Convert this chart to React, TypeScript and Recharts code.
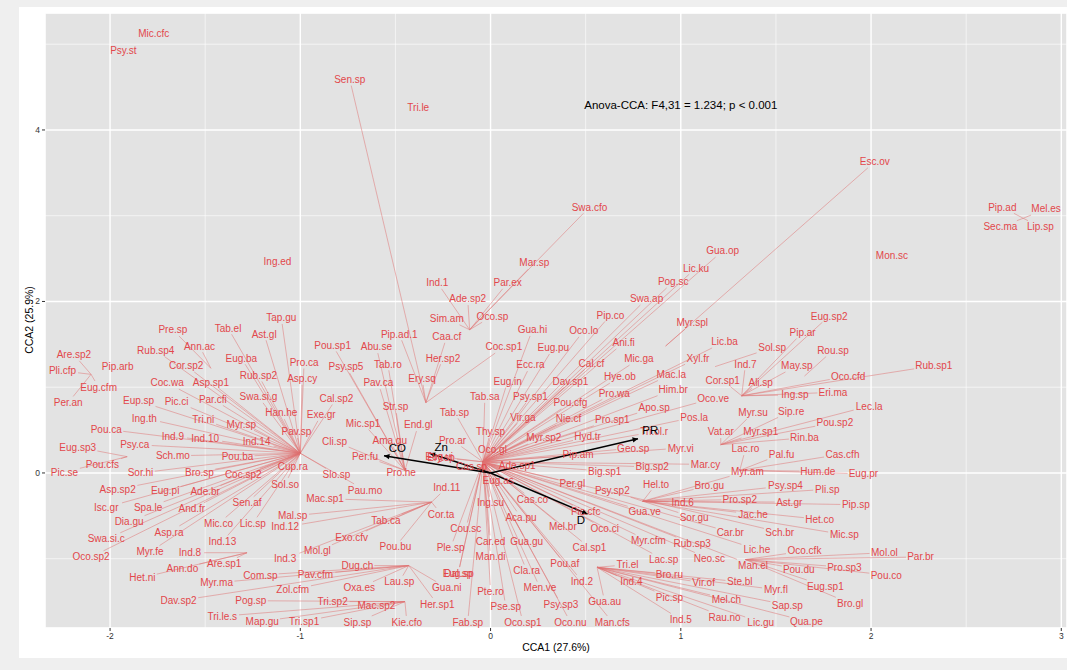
import React from "react";
import { ScatterChart, Scatter, XAxis, YAxis, ReferenceLine, CartesianGrid } from "recharts";

// points where the repelled label segments start (CCA1, CCA2)
const siteIds = ["A", "B", "C", "D1", "D2", "E", "F", "G", "H", "L1", "L2", "L3", "L4", "P", "S", "O", "M", "K", "K2", "R", "T", "U"];
const siteCCA1 = [-1.0, -0.34, -0.11, -0.43, -0.45, -0.31, 0.56, 0.8, 1.32, -2.1, -1.47, -1.91, -1.28, 2.8, 0.92, -0.04, -0.45, 1.21, 1.31, 1.34, 1.18, 1.65];
const siteCCA2 = [0.23, 0.82, 1.67, -1.08, -1.5, -0.34, -1.1, -0.33, 0.9, 1.15, 1.22, 0.19, -0.93, 2.97, 1.48, 0.13, 0.03, 0.33, 0.03, -1.01, 1.24, 1.13];

// species label: name, CCA1, CCA2, site ("" = no segment)
type Sp = [string, number, number, string];

const upperSpecies: Sp[] = [
  ["Mic.cfc", -1.77, 5.13, ""], ["Psy.st", -1.93, 4.93, ""], ["Sen.sp", -0.74, 4.59, "B"],
  ["Tri.le", -0.38, 4.26, ""], ["Swa.cfo", 0.52, 3.1, "C"], ["Esc.ov", 2.02, 3.63, "S"],
  ["Pip.ad", 2.69, 3.1, "P"], ["Mel.es", 2.92, 3.08, "P"], ["Sec.ma", 2.68, 2.87, "P"],
  ["Lip.sp", 2.89, 2.87, "P"], ["Mon.sc", 2.11, 2.54, ""], ["Ing.ed", -1.12, 2.47, ""],
  ["Mar.sp", 0.23, 2.45, "C"], ["Ind.1", -0.28, 2.22, "C"], ["Par.ex", 0.09, 2.22, "C"],
  ["Ade.sp2", -0.12, 2.03, "C"], ["Sim.am", -0.23, 1.8, "C"], ["Oco.sp", 0.01, 1.83, "C"],
  ["Gua.op", 1.22, 2.59, "O"], ["Lic.ku", 1.08, 2.39, "O"], ["Pog.sc", 0.96, 2.23, "O"],
  ["Swa.ap", 0.82, 2.03, "O"], ["Pip.co", 0.63, 1.84, "O"], ["Myr.spl", 1.06, 1.75, "S"],
  ["Oco.lo", 0.49, 1.66, "O"], ["Gua.hi", 0.22, 1.67, "O"], ["Ani.fi", 0.7, 1.52, "O"],
  ["Lic.ba", 1.23, 1.53, "O"], ["Eug.pu", 0.33, 1.46, "O"], ["Mic.ga", 0.78, 1.33, "O"],
  ["Xyl.fr", 1.09, 1.34, "O"], ["Cal.cf", 0.53, 1.28, "O"],
];

const rightSpecies: Sp[] = [
  ["Ind.7", 1.34, 1.27, "H"], ["Sol.sp", 1.48, 1.46, "T"], ["Hye.ob", 0.68, 1.12, "O"],
  ["Mac.la", 0.95, 1.15, "O"], ["Dav.sp1", 0.42, 1.07, "O"], ["Cor.sp1", 1.22, 1.08, "H"],
  ["Ali.sp", 1.42, 1.06, "H"], ["Pro.wa", 0.65, 0.93, "O"], ["Him.br", 0.96, 0.97, "O"],
  ["Oco.ve", 1.17, 0.87, "O"], ["Pou.cfg", 0.42, 0.82, "O"], ["Apo.sp", 0.86, 0.76, "O"],
  ["Myr.su", 1.38, 0.7, "K"], ["Sip.re", 1.58, 0.72, "K"], ["Nie.cf", 0.41, 0.63, "O"],
  ["Pro.sp1", 0.64, 0.62, "O"], ["Pos.la", 1.07, 0.65, "O"], ["Vat.ar", 1.21, 0.48, "K"],
  ["Myr.sp1", 1.42, 0.48, "K"], ["Tri.ol.r", 0.86, 0.48, "O"], ["Hyd.tr", 0.51, 0.42, "O"],
  ["Myr.sp2", 0.28, 0.41, "O"], ["Eug.sp2", 1.78, 1.83, "H"], ["Pip.ar", 1.64, 1.64, "H"],
  ["Rou.sp", 1.8, 1.43, "U"], ["May.sp", 1.61, 1.25, "H"], ["Rub.sp1", 2.33, 1.25, "H"],
  ["Oco.cfd", 1.88, 1.13, "H"], ["Eri.ma", 1.8, 0.94, "H"], ["Ing.sp", 1.6, 0.91, "H"],
  ["Lec.la", 1.99, 0.78, "K"], ["Pou.sp2", 1.81, 0.59, "K"], ["Rin.ba", 1.65, 0.41, "K"],
  ["Cas.cfh", 1.85, 0.22, "K2"], ["Pal.fu", 1.53, 0.22, "K2"], ["Lac.ro", 1.34, 0.28, "K2"],
  ["Hum.de", 1.72, 0.02, "K2"], ["Eug.pr", 1.96, -0.01, "K2"], ["Myr.am", 1.35, 0.02, "G"],
  ["Mar.cy", 1.13, 0.1, "O"], ["Myr.vi", 1.0, 0.29, "O"], ["Geo.sp", 0.75, 0.29, "O"],
  ["Big.sp2", 0.85, 0.07, "O"], ["Big.sp1", 0.6, 0.02, "O"], ["Pip.am", 0.46, 0.21, "O"],
  ["Per.gl", 0.43, -0.12, "O"], ["Psy.sp2", 0.64, -0.21, "G"], ["Hel.to", 0.87, -0.13, "G"],
  ["Bro.gu", 1.15, -0.15, "G"], ["Psy.sp4", 1.55, -0.15, "G"], ["Pli.sp", 1.77, -0.19, "G"],
  ["Ind.6", 1.01, -0.34, "G"], ["Pro.sp2", 1.31, -0.31, "G"], ["Ast.gr", 1.57, -0.34, "G"],
  ["Pip.sp", 1.92, -0.37, "G"], ["Pic.cfc", 0.5, -0.45, "O"], ["Gua.ve", 0.81, -0.45, "O"],
  ["Sor.gu", 1.07, -0.52, "G"], ["Jac.he", 1.38, -0.48, "G"], ["Het.co", 1.73, -0.54, "G"],
  ["Mel.br", 0.38, -0.63, "O"], ["Oco.ci", 0.6, -0.65, "O"], ["Car.br", 1.26, -0.69, "O"],
  ["Sch.br", 1.52, -0.69, "O"], ["Mic.sp", 1.86, -0.72, "G"], ["Myr.cfm", 0.83, -0.79, "O"],
  ["Rub.sp3", 1.06, -0.82, "O"], ["Lic.he", 1.4, -0.89, "O"], ["Cal.sp1", 0.52, -0.87, "O"],
  ["Oco.cfk", 1.65, -0.91, "R"], ["Mol.ol", 2.07, -0.93, "R"], ["Par.br", 2.26, -0.98, "R"],
  ["Lac.sp", 0.91, -1.01, "O"], ["Neo.sc", 1.15, -1.0, "O"], ["Man.el", 1.38, -1.08, "O"],
  ["Pou.du", 1.62, -1.12, "R"], ["Pro.sp3", 1.86, -1.1, "R"], ["Pou.co", 2.08, -1.19, "R"],
  ["Pou.af", 0.39, -1.06, "O"], ["Tri.el", 0.72, -1.07, "F"], ["Bro.ru", 0.94, -1.18, "F"],
  ["Ind.2", 0.48, -1.26, "O"], ["Ind.4", 0.74, -1.27, "F"], ["Vir.of", 1.12, -1.28, "F"],
  ["Ste.bl", 1.31, -1.27, "F"], ["Myr.fl", 1.5, -1.36, "F"], ["Eug.sp1", 1.76, -1.32, "R"],
  ["Pic.sp", 0.94, -1.45, "F"], ["Mel.ch", 1.24, -1.47, "F"], ["Gua.au", 0.6, -1.5, "F"],
  ["Psy.sp3", 0.37, -1.53, "O"], ["Sap.sp", 1.56, -1.54, "F"], ["Bro.gl", 1.89, -1.52, "R"],
  ["Ind.5", 1.0, -1.71, "F"], ["Rau.no", 1.23, -1.68, "F"], ["Lic.gu", 1.42, -1.74, "F"],
  ["Qua.pe", 1.66, -1.73, "F"], ["Oco.nu", 0.42, -1.74, "O"], ["Man.cfs", 0.64, -1.74, "O"],
  ["Men.ve", 0.26, -1.34, "O"],
];

const centreSpecies: Sp[] = [
  ["Pip.ad.1", -0.48, 1.62, "B"], ["Caa.cf", -0.23, 1.59, "B"], ["Pou.sp1", -0.83, 1.49, "M"],
  ["Abu.se", -0.6, 1.47, "M"], ["Her.sp2", -0.25, 1.34, "B"], ["Coc.sp1", 0.07, 1.47, "B"],
  ["Tab.ro", -0.54, 1.27, "M"], ["Psy.sp5", -0.76, 1.24, "M"], ["Pro.ca", -0.98, 1.29, "A"],
  ["Ecc.ra", 0.21, 1.26, "O"], ["Ery.sq", -0.36, 1.1, "B"], ["Asp.cy", -0.99, 1.1, "A"],
  ["Eug.in", 0.09, 1.07, "O"], ["Pav.ca", -0.59, 1.05, "M"], ["Tab.sa", -0.03, 0.89, "O"],
  ["Psy.sp1", 0.21, 0.89, "O"], ["Cal.sp2", -0.81, 0.87, "A"], ["Str.sp", -0.5, 0.77, "M"],
  ["Tab.sp", -0.19, 0.71, "O"], ["Vir.ga", 0.17, 0.65, "O"], ["Exe.gr", -0.89, 0.68, "A"],
  ["Han.he", -1.1, 0.7, "A"], ["Mic.sp1", -0.67, 0.58, "M"], ["End.gl", -0.38, 0.56, "M"],
  ["Pav.sp", -1.02, 0.48, "A"], ["Thy.sp", 0.0, 0.48, "O"], ["Cli.sp", -0.82, 0.37, "M"],
  ["Ama.gu", -0.53, 0.38, "M"], ["Pro.ar", -0.2, 0.38, "O"], ["Oco.gl", 0.01, 0.27, "O"],
  ["Per.fu", -0.66, 0.19, "M"], ["Eug.vi", -0.27, 0.19, "O"], ["Ery.sp", -0.26, 0.18, "O"],
  ["Cas.sp", -0.1, 0.08, "O"], ["Ade.sp1", 0.14, 0.09, "O"], ["Cup.ra", -1.04, 0.08, "A"],
  ["Slo.sp", -0.81, -0.02, "A"], ["Pro.he", -0.47, 0.0, "M"], ["Eug.as", 0.04, -0.09, "O"],
  ["Sol.so", -1.08, -0.13, "A"], ["Pau.mo", -0.66, -0.2, "A"], ["Ind.11", -0.23, -0.17, "E"],
  ["Mac.sp1", -0.87, -0.3, "E"], ["Ing.su", 0.0, -0.35, "O"], ["Cas.co", 0.22, -0.31, "O"],
  ["Mal.sp", -1.04, -0.5, "E"], ["Ind.12", -1.08, -0.63, "E"], ["Cor.ta", -0.26, -0.48, "E"],
  ["Tab.ca", -0.55, -0.55, "E"], ["Aca.pu", 0.16, -0.52, "O"], ["Cou.sc", -0.13, -0.65, "O"],
  ["Exo.cfv", -0.73, -0.75, "E"], ["Ple.sp", -0.21, -0.87, "O"], ["Pou.bu", -0.5, -0.86, "E"],
  ["Car.ed", 0.0, -0.8, "O"], ["Gua.gu", 0.19, -0.8, "O"], ["Mol.gl", -0.91, -0.91, "E"],
  ["Ind.3", -1.08, -1.0, "E"], ["Man.di", 0.0, -0.98, "O"], ["Dug.ch", -0.7, -1.08, "D1"],
  ["Cla.ra", 0.19, -1.14, "O"], ["Eug.sp", -0.17, -1.17, "O"], ["Dal.sp", -0.17, -1.17, "O"],
  ["Pav.cfm", -0.92, -1.18, "D1"], ["Lau.sp", -0.48, -1.27, "D1"], ["Zol.cfm", -1.04, -1.36, "D1"],
  ["Oxa.es", -0.69, -1.34, "D1"], ["Gua.ni", -0.23, -1.34, "D1"], ["Pte.ro", 0.0, -1.38, "O"],
  ["Tri.sp2", -0.83, -1.5, "D2"], ["Mac.sp2", -0.6, -1.55, "D2"], ["Her.sp1", -0.28, -1.53, "D1"],
  ["Pse.sp", 0.08, -1.56, "O"], ["Tri.sp1", -0.98, -1.73, "D2"], ["Sip.sp", -0.7, -1.74, "D2"],
  ["Kie.cfo", -0.44, -1.74, "D2"], ["Fab.sp", -0.12, -1.74, "O"], ["Oco.sp1", 0.17, -1.74, "O"],
  ["Map.gu", -1.2, -1.73, "D2"], ["Com.sp", -1.21, -1.19, "D1"],
];

const leftSpecies: Sp[] = [
  ["Tap.gu", -1.1, 1.81, "A"], ["Ast.gl", -1.19, 1.62, "A"], ["Tab.el", -1.38, 1.69, "A"],
  ["Pre.sp", -1.67, 1.67, "L2"], ["Ann.ac", -1.53, 1.48, "L2"], ["Are.sp2", -2.19, 1.38, "L1"],
  ["Rub.sp4", -1.76, 1.43, "A"], ["Eug.ba", -1.31, 1.34, "A"], ["Pli.cfp", -2.25, 1.19, "L1"],
  ["Pip.arb", -1.96, 1.24, ""], ["Cor.sp2", -1.6, 1.25, "A"], ["Rub.sp2", -1.22, 1.14, "A"],
  ["Eug.cfm", -2.06, 1.0, "L1"], ["Coc.wa", -1.7, 1.05, "A"], ["Asp.sp1", -1.47, 1.06, "A"],
  ["Per.an", -2.22, 0.82, "L1"], ["Eup.sp", -1.85, 0.84, "A"], ["Pic.ci", -1.65, 0.83, "A"],
  ["Par.cfi", -1.46, 0.86, "A"], ["Swa.si.g", -1.22, 0.89, "A"], ["Ing.th", -1.82, 0.64, "A"],
  ["Tri.ni", -1.51, 0.62, "A"], ["Myr.sp", -1.31, 0.57, "A"], ["Pou.ca", -2.02, 0.51, "A"],
  ["Ind.9", -1.67, 0.43, "A"], ["Ind.10", -1.5, 0.4, "A"], ["Ind.14", -1.23, 0.37, "A"],
  ["Eug.sp3", -2.17, 0.3, "L3"], ["Psy.ca", -1.87, 0.33, "A"], ["Pou.cfs", -2.04, 0.1, "L3"],
  ["Sch.mo", -1.67, 0.2, "A"], ["Pou.ba", -1.33, 0.19, "A"], ["Pic.se", -2.24, 0.01, "L3"],
  ["Sor.hi", -1.84, 0.0, "A"], ["Bro.sp", -1.53, 0.01, "A"], ["Coc.sp2", -1.3, -0.02, "A"],
  ["Asp.sp2", -1.96, -0.19, "A"], ["Eug.pi", -1.71, -0.21, "A"], ["Ade.br", -1.5, -0.22, "A"],
  ["Isc.gr", -2.02, -0.4, "A"], ["Spa.le", -1.8, -0.4, "A"], ["And.fr", -1.57, -0.42, "A"],
  ["Sen.af", -1.28, -0.35, "A"], ["Dia.gu", -1.9, -0.57, "A"], ["Mic.co", -1.43, -0.59, "A"],
  ["Lic.sp", -1.25, -0.59, "A"], ["Swa.si.c", -2.02, -0.77, "A"], ["Asp.ra", -1.69, -0.69, "A"],
  ["Ind.13", -1.41, -0.8, "A"], ["Oco.sp2", -2.1, -0.98, "A"], ["Myr.fe", -1.79, -0.92, "A"],
  ["Ind.8", -1.58, -0.93, "L4"], ["Ann.do", -1.62, -1.11, "L4"], ["Are.sp1", -1.4, -1.06, "L4"],
  ["Het.ni", -1.83, -1.22, "L4"], ["Myr.ma", -1.44, -1.28, "D1"], ["Dav.sp2", -1.64, -1.49, "D1"],
  ["Pog.sp", -1.26, -1.49, "D2"], ["Tri.le.s", -1.41, -1.67, "D2"],
];

// environmental arrows
const envNames = ["CO", "Zn", "PR", "D"];
const envCCA1 = [-0.56, -0.32, 0.775, 0.51];
const envCCA2 = [0.2, 0.23, 0.4, -0.48];
const envLabelCCA1 = [-0.49, -0.26, 0.84, 0.475];
const envLabelCCA2 = [0.29, 0.3, 0.5, -0.55];

const xMajor = [-2, -1, 0, 1, 2, 3];
const xMinor = [-1.5, -0.5, 0.5, 1.5, 2.5];
const yMajor = [0, 2, 4];
const yMinor = [-1, 1, 3, 5];
const xDomain = [-2.342, 3.03];
const yDomain = [-1.808, 5.364];

const RED = "#E2474B";
const FONT = "'Liberation Sans', Arial, Helvetica, sans-serif";
const FS = 10;

const charW = (c: string) => {
  if ("il.,;:|".includes(c)) return 0.25;
  if ("frtj".includes(c)) return 0.3;
  if ("mw".includes(c)) return 0.8;
  if (c === "M") return 0.83;
  if (c >= "A" && c <= "Z") return 0.68;
  return 0.54;
};
const textWidth = (s: string) => [...s].reduce((w, c) => w + charW(c), 0) * FS;

const allSpecies = [...upperSpecies, ...rightSpecies, ...centreSpecies, ...leftSpecies].map(
  ([name, x, y, site]) => ({ name, x, y, site })
);

const segmentShape = (name: string) => (p: any) => {
  const { x1, y1, x2, y2 } = p;
  if ([x1, y1, x2, y2].some((v) => typeof v !== "number" || isNaN(v))) return <g />;
  const hw = textWidth(name) / 2 + 1.5;
  const hh = FS * 0.62;
  const dx = x1 - x2;
  const dy = y1 - y2;
  const t = Math.min(dx ? hw / Math.abs(dx) : Infinity, dy ? hh / Math.abs(dy) : Infinity);
  if (t >= 1) return <g />;
  return (
    <line x1={x1} y1={y1} x2={x2 + dx * t} y2={y2 + dy * t} stroke="#E07272" strokeWidth={0.6} strokeOpacity={0.85} />
  );
};

const arrowShape = (p: any) => {
  const { x1, y1, x2, y2 } = p;
  if ([x1, y1, x2, y2].some((v) => typeof v !== "number" || isNaN(v))) return <g />;
  const a = Math.atan2(y2 - y1, x2 - x1);
  const len = 6;
  const spread = 0.45;
  const pts = [
    [x2, y2],
    [x2 - len * Math.cos(a - spread), y2 - len * Math.sin(a - spread)],
    [x2 - len * Math.cos(a + spread), y2 - len * Math.sin(a + spread)],
  ];
  return (
    <g>
      <line x1={x1} y1={y1} x2={x2} y2={y2} stroke="#000" strokeWidth={1.5} />
      <polygon points={pts.map((q) => q.join(",")).join(" ")} fill="#000" />
    </g>
  );
};

const SpeciesLabel = (props: any) => {
  const { cx, cy, payload } = props;
  return (
    <text x={cx} y={cy} textAnchor="middle" dominantBaseline="central" fontSize={FS} fontFamily={FONT} fill={RED}>
      {payload.name}
    </text>
  );
};

const BlackLabel = (props: any) => {
  const { cx, cy, payload } = props;
  return (
    <text x={cx} y={cy} textAnchor="middle" dominantBaseline="central" fontSize={payload.size} fontFamily={FONT} fill="#000">
      {payload.name}
    </text>
  );
};

const envLabels = envNames.map((name, i) => ({ name, x: envLabelCCA1[i], y: envLabelCCA2[i], size: 11.5 }));
const anovaLabel = [{ name: "Anova-CCA: F4,31 = 1.234; p < 0.001", x: 1.0, y: 4.29, size: 11.5 }];

export default function App() {
  return (
    <div style={{ position: "absolute", left: 0, top: 0, width: 1067, height: 670, background: "#EFEFEF", overflow: "hidden", fontFamily: FONT }}>
      <div style={{ position: "absolute", left: 19, top: 7, width: 1060, height: 651, background: "#FFFFFF" }} />
      <div style={{ position: "absolute", left: 0, top: 0 }}>
        <ScatterChart width={1067} height={670} margin={{ top: 13, right: 0, bottom: 0, left: 0 }}>
          <XAxis
            type="number"
            dataKey="x"
            domain={xDomain}
            ticks={xMajor}
            allowDataOverflow
            height={42}
            axisLine={false}
            tickSize={3}
            tickLine={{ stroke: "#333" }}
            tick={{ fontSize: 8.5, fill: "#333", fontFamily: FONT }}
          />
          <YAxis
            type="number"
            dataKey="y"
            domain={yDomain}
            ticks={yMajor}
            allowDataOverflow
            width={45}
            axisLine={false}
            tickSize={3}
            tickLine={{ stroke: "#333" }}
            tick={{ fontSize: 8.5, fill: "#333", fontFamily: FONT }}
          />
          <XAxis xAxisId="minor" type="number" dataKey="x" domain={xDomain} ticks={xMinor} allowDataOverflow hide />
          <YAxis yAxisId="minor" type="number" dataKey="y" domain={yDomain} ticks={yMinor} allowDataOverflow hide />
          <CartesianGrid fill="#E3E3E3" stroke="#FFFFFF" strokeWidth={1.4} />
          <CartesianGrid xAxisId="minor" yAxisId="minor" stroke="#FFFFFF" strokeWidth={0.6} />
          {allSpecies
            .filter((s) => s.site !== "")
            .map((s, i) => {
              const k = siteIds.indexOf(s.site);
              return (
                <ReferenceLine
                  key={"seg" + i}
                  segment={[
                    { x: siteCCA1[k], y: siteCCA2[k] },
                    { x: s.x, y: s.y },
                  ]}
                  shape={segmentShape(s.name)}
                />
              );
            })}
          {envNames.map((n, i) => (
            <ReferenceLine
              key={"env" + n}
              segment={[
                { x: 0, y: 0 },
                { x: envCCA1[i], y: envCCA2[i] },
              ]}
              shape={arrowShape}
            />
          ))}
          <Scatter data={allSpecies} shape={<SpeciesLabel />} isAnimationActive={false} />
          <Scatter data={envLabels} shape={<BlackLabel />} isAnimationActive={false} />
          <Scatter data={anovaLabel} shape={<BlackLabel />} isAnimationActive={false} />
        </ScatterChart>
      </div>
      <div style={{ position: "absolute", left: 0, width: 1112, top: 641, textAlign: "center", fontSize: 10.5, color: "#000" }}>
        CCA1 (27.6%)
      </div>
      <div
        style={{
          position: "absolute",
          left: 29,
          top: 320,
          transform: "translate(-50%, -50%) rotate(-90deg)",
          whiteSpace: "nowrap",
          fontSize: 10.5,
          color: "#000",
        }}
      >
        CCA2 (25.9%)
      </div>
    </div>
  );
}
